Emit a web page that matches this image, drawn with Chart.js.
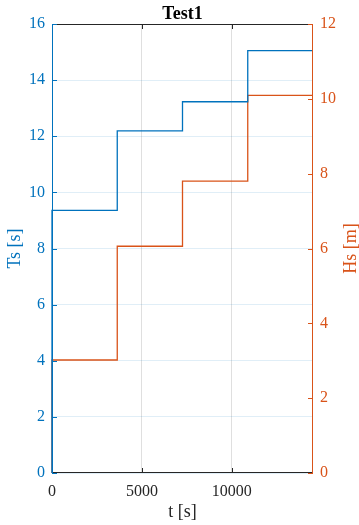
<!DOCTYPE html>
<html>
<head>
<meta charset="utf-8">
<script src="https://cdn.jsdelivr.net/npm/chart.js@4.4.1/dist/chart.umd.min.js"></script>
<style>
  html, body { margin: 0; padding: 0; background: #ffffff; }
  #wrap { width: 359px; height: 525px; position: relative; }
</style>
</head>
<body>
<div id="wrap"><canvas id="c" width="359" height="525"></canvas></div>
<script>
// Step schedule: times (s) at which each level starts, and the end of the record
const stepTimes = [0, 3630, 7260, 10890];
const endTime = 14520;
// Levels held between steps
const tsLevels = [9.36, 12.19, 13.23, 15.05];   // Ts [s]
const hsLevels = [3.02, 6.06, 7.80, 10.09];     // Hs [m]
// Tick labels
const tTicks = [0, 5000, 10000];
const tsTicks = [0, 2, 4, 6, 8, 10, 12, 14, 16];
const hsTicks = [0, 2, 4, 6, 8, 10, 12];

const BLUE = '#0072BD';
const ORANGE = '#D95319';
const DARK = '#262626';
const FONT = "'Liberation Serif', 'Times New Roman', serif";

// Build a stepped series starting from zero at t = 0
function stepSeries(times, levels, tEnd) {
  const pts = [{ x: times[0], y: 0 }];
  for (let i = 0; i < times.length; i++) pts.push({ x: times[i], y: levels[i] });
  pts.push({ x: tEnd, y: levels[levels.length - 1] });
  return pts;
}

function useTicks(values) {
  return function (scale) { scale.ticks = values.map(v => ({ value: v })); };
}

// Box, inward tick marks, title and right-hand axis label
const frame = {
  id: 'frame',
  afterDatasetsDraw(chart) {
    const { ctx, chartArea: a, scales } = chart;
    const L = 5;
    ctx.save();
    ctx.lineWidth = 1;
    // top and bottom
    ctx.strokeStyle = DARK;
    ctx.beginPath();
    ctx.moveTo(a.left, a.top + 0.5); ctx.lineTo(a.right, a.top + 0.5);
    ctx.moveTo(a.left, a.bottom - 0.5); ctx.lineTo(a.right, a.bottom - 0.5);
    tTicks.forEach(v => {
      const x = Math.round(scales.x.getPixelForValue(v)) + 0.5;
      if (v === scales.x.min) return;
      ctx.moveTo(x, a.top); ctx.lineTo(x, a.top + L);
      ctx.moveTo(x, a.bottom); ctx.lineTo(x, a.bottom - L);
    });
    ctx.stroke();
    // left axis
    ctx.strokeStyle = BLUE;
    ctx.beginPath();
    ctx.moveTo(a.left + 0.5, a.top); ctx.lineTo(a.left + 0.5, a.bottom);
    tsTicks.forEach(v => {
      const y = Math.round(scales.yTs.getPixelForValue(v)) + 0.5;
      ctx.moveTo(a.left, y); ctx.lineTo(a.left + L, y);
    });
    ctx.stroke();
    // right axis
    ctx.strokeStyle = ORANGE;
    ctx.beginPath();
    ctx.moveTo(a.right - 0.5, a.top); ctx.lineTo(a.right - 0.5, a.bottom);
    hsTicks.forEach(v => {
      const y = Math.round(scales.yHs.getPixelForValue(v)) + 0.5;
      ctx.moveTo(a.right, y); ctx.lineTo(a.right - L, y);
    });
    ctx.stroke();
    // title
    ctx.fillStyle = '#000000';
    ctx.font = "bold 18px " + FONT;
    ctx.textAlign = 'center';
    ctx.textBaseline = 'alphabetic';
    ctx.fillText('Test1', (a.left + a.right) / 2, 18.5);
    // right axis label, reading bottom to top
    ctx.save();
    ctx.translate(351, (a.top + a.bottom) / 2);
    ctx.rotate(-Math.PI / 2);
    ctx.fillStyle = ORANGE;
    ctx.font = "18px " + FONT;
    ctx.textBaseline = 'middle';
    ctx.fillText('Hs [m]', 0, 0);
    ctx.restore();
    ctx.restore();
  }
};

new Chart(document.getElementById('c'), {
  type: 'line',
  data: {
    datasets: [
      {
        label: 'Ts',
        data: stepSeries(stepTimes, tsLevels, endTime),
        yAxisID: 'yTs',
        borderColor: BLUE,
        borderWidth: 1.3,
        stepped: 'before',
        pointRadius: 0,
        fill: false,
        clip: false
      },
      {
        label: 'Hs',
        data: stepSeries(stepTimes, hsLevels, endTime),
        yAxisID: 'yHs',
        borderColor: ORANGE,
        borderWidth: 1.3,
        stepped: 'before',
        pointRadius: 0,
        fill: false,
        clip: false
      }
    ]
  },
  options: {
    responsive: false,
    animation: false,
    events: [],
    layout: { padding: { top: 24, left: 0, right: 0, bottom: 0 } },
    plugins: { legend: { display: false }, tooltip: { enabled: false }, title: { display: false } },
    scales: {
      x: {
        type: 'linear',
        min: 0,
        max: endTime,
        afterBuildTicks: useTicks(tTicks),
        afterFit(s) { s.height = 52; },
        ticks: {
          color: DARK,
          font: { family: FONT, size: 16 },
          padding: 9,
          maxRotation: 0,
          callback: v => String(v)
        },
        grid: { color: 'rgba(38,38,38,0.15)', lineWidth: 1, drawTicks: false },
        border: { display: false },
        title: {
          display: true,
          text: 't [s]',
          color: DARK,
          font: { family: FONT, size: 18, lineHeight: 1 },
          padding: { top: 0, bottom: 4 }
        }
      },
      yTs: {
        type: 'linear',
        position: 'left',
        min: 0,
        max: 16,
        afterBuildTicks: useTicks(tsTicks),
        afterFit(s) { s.width = 52; },
        ticks: {
          color: BLUE,
          font: { family: FONT, size: 16 },
          padding: 7,
          callback: v => String(v)
        },
        grid: { color: 'rgba(0,114,189,0.12)', lineWidth: 1, drawTicks: false },
        border: { display: false },
        title: {
          display: true,
          text: 'Ts [s]',
          color: BLUE,
          font: { family: FONT, size: 18, lineHeight: 1 },
          padding: { top: 6, bottom: 0 }
        }
      },
      yHs: {
        type: 'linear',
        position: 'right',
        min: 0,
        max: 12,
        afterBuildTicks: useTicks(hsTicks),
        afterFit(s) { s.width = 46; },
        ticks: {
          color: ORANGE,
          font: { family: FONT, size: 16 },
          padding: 7,
          callback: v => String(v)
        },
        grid: { drawOnChartArea: false, drawTicks: false },
        border: { display: false },
        title: { display: false }
      }
    }
  },
  plugins: [frame]
});
</script>
</body>
</html>
